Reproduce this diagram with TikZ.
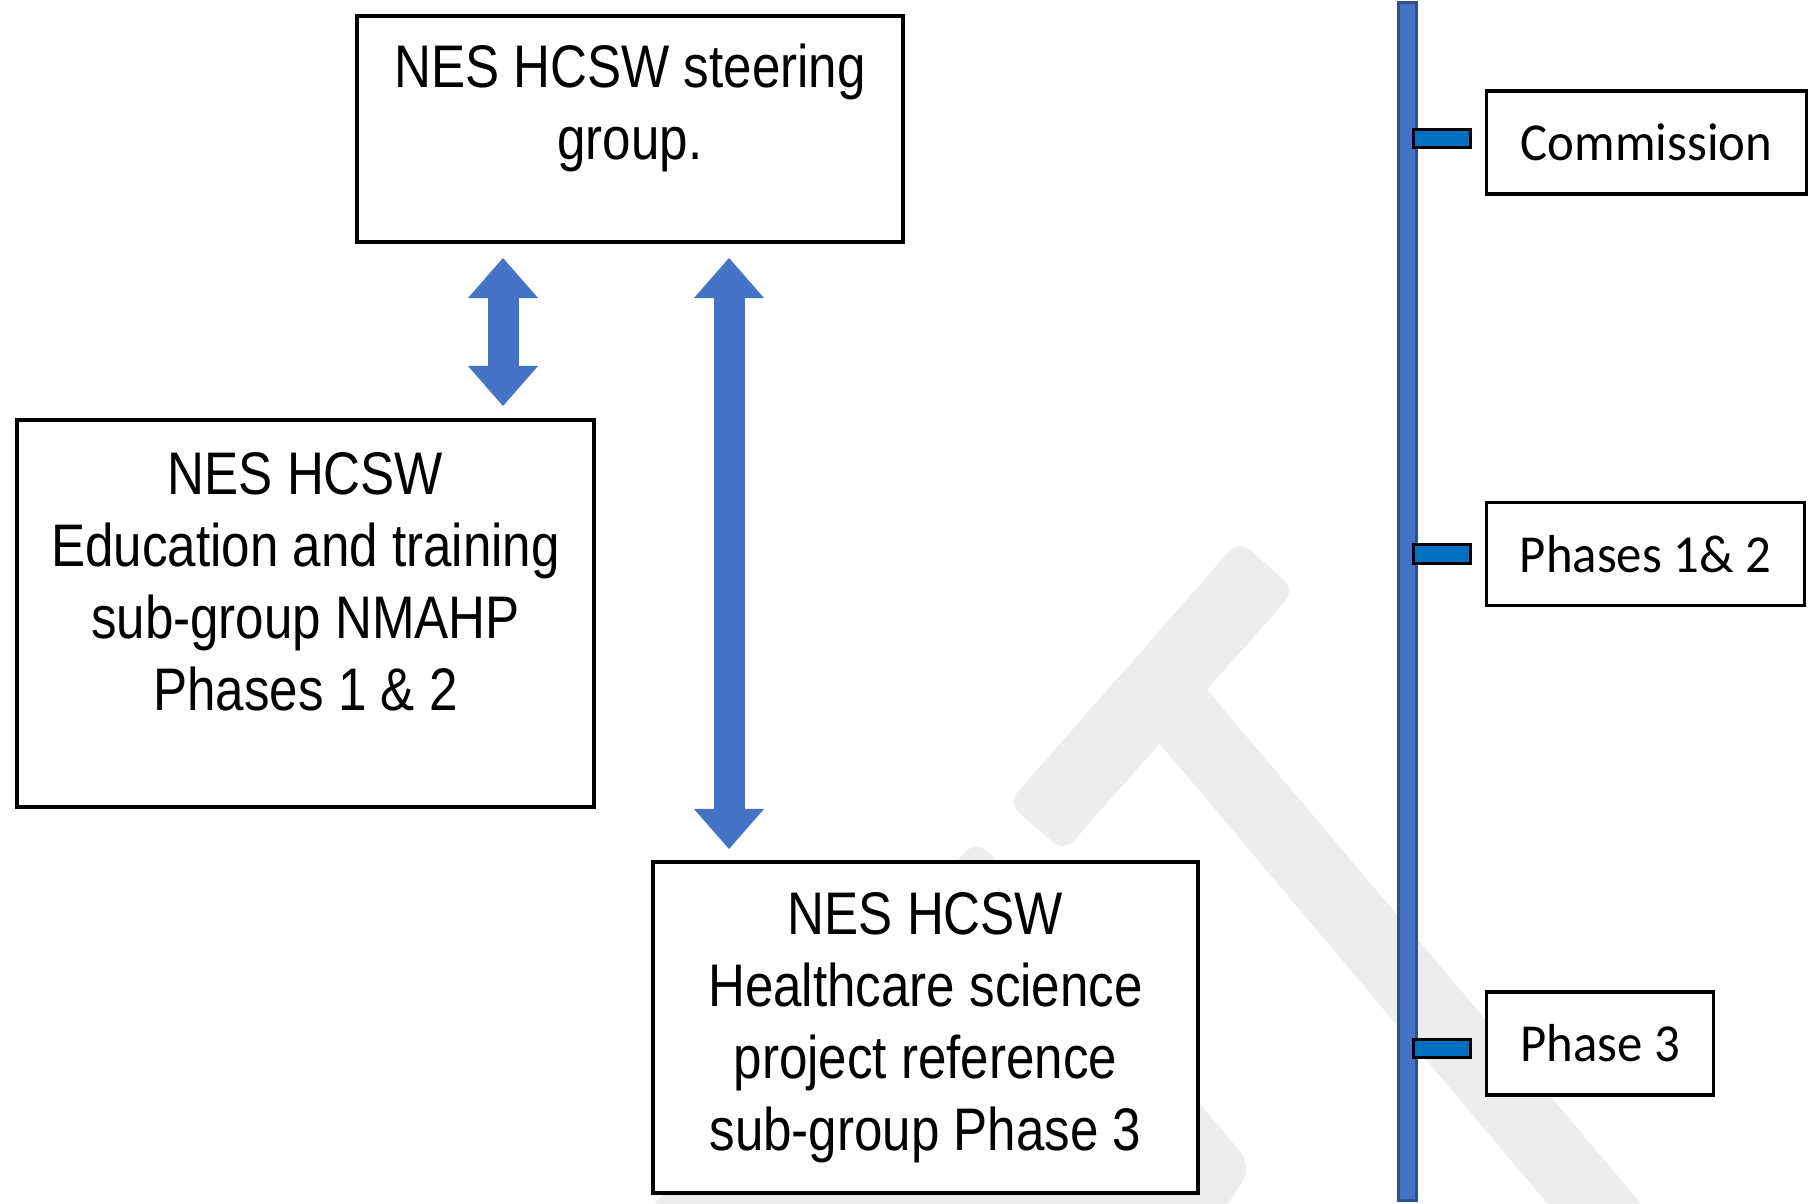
\documentclass[tikz,border=0pt]{standalone}
\usepackage{fontspec}
\setmainfont{Liberation Sans}
\newfontfamily\grpfont[FakeStretch=0.85]{Liberation Sans}
\newfontfamily\phasefont[FakeStretch=0.95]{Carlito}
\usetikzlibrary{arrows.meta, positioning, calc}
\definecolor{barblue}{HTML}{4472C4}
\definecolor{bardark}{HTML}{2F528F}
\definecolor{tickblue}{HTML}{0070C0}
\definecolor{wmgray}{HTML}{EDEDED}

\begin{document}
\begin{tikzpicture}[x=0.01cm, y=-0.01cm,
  grpbox/.style={draw, line width=1pt, fill=white, align=center, inner sep=0pt, font=\grpfont\fontsize{17.1pt}{20.5pt}\selectfont},
  phasebox/.style={draw, line width=1pt, fill=white, inner sep=0pt, minimum height=1.03cm, font=\phasefont\fontsize{15.2pt}{18pt}\selectfont},
  tickmark/.style={draw, line width=0.03cm, fill=tickblue, minimum width=0.57cm, minimum height=0.18cm, inner sep=0pt},
  tlbar/.style={draw=bardark, fill=barblue, line width=0.03cm, minimum width=0.18cm, minimum height=11.98cm, inner sep=0pt},
  blockarr/.style={{Triangle[length=0.4cm, width=0.7cm, line width=0pt]}-{Triangle[length=0.4cm, width=0.7cm, line width=0pt]}, barblue, line width=0.31cm},
  wmark/.style={wmgray}
]
  \useasboundingbox (0,0) rectangle (1819,1204);

  % faint watermark behind everything
  \begin{scope}
    \clip (0,0) rectangle (1819,1204);
    \fill[wmark, rounded corners=0.15cm] (1239,540) -- (1295,590) -- (1064,852) -- (1008,803) -- cycle;
    \fill[wmark] (1203,685) -- (1703,1277) -- (1648,1323) -- (1149,731) -- cycle;
    \fill[wmark, rounded corners=0.2cm] (977,838) -- (1253,1167) -- (1189,1260) -- (605,1260) -- cycle;
  \end{scope}

  \node[grpbox, minimum width=5.46cm, minimum height=2.26cm, text depth=15.3pt] (steer) at (630,129) {NES HCSW steering\\group.};
  \node[grpbox, minimum width=5.77cm, minimum height=3.87cm, text depth=18.2pt] (edu) at (305.5,613.5) {NES HCSW\\Education and training\\sub-group NMAHP\\Phases 1 \& 2};
  \node[grpbox, minimum width=5.45cm, minimum height=3.31cm] (hcs) at (925.5,1027.5) {NES HCSW\\Healthcare science\\project reference\\sub-group Phase 3};

  \coordinate (s1) at (503,258);
  \coordinate (s2) at (503,406);
  \coordinate (l1) at (729,258);
  \coordinate (l2) at (729,849);
  \draw[blockarr] (s1) -- (s2);
  \draw[blockarr] (l1) -- (l2);

  % timeline
  \node[tlbar] (tline) at (1407.5,601.5) {};
  \node[tickmark] (tcom) at (1442,139) {};
  \node[tickmark] (tph12) at (1442,554) {};
  \node[tickmark] (tph3) at (1442,1048) {};

  \node[phasebox, minimum width=3.2cm] (com) at (1646.5,142.5) {Commission};
  \node[phasebox, minimum width=3.18cm] (ph12) at (1645.5,554) {Phases 1\& 2};
  \node[phasebox, minimum width=2.27cm] (ph3) at (1600,1043.5) {Phase 3};
\end{tikzpicture}
\end{document}
